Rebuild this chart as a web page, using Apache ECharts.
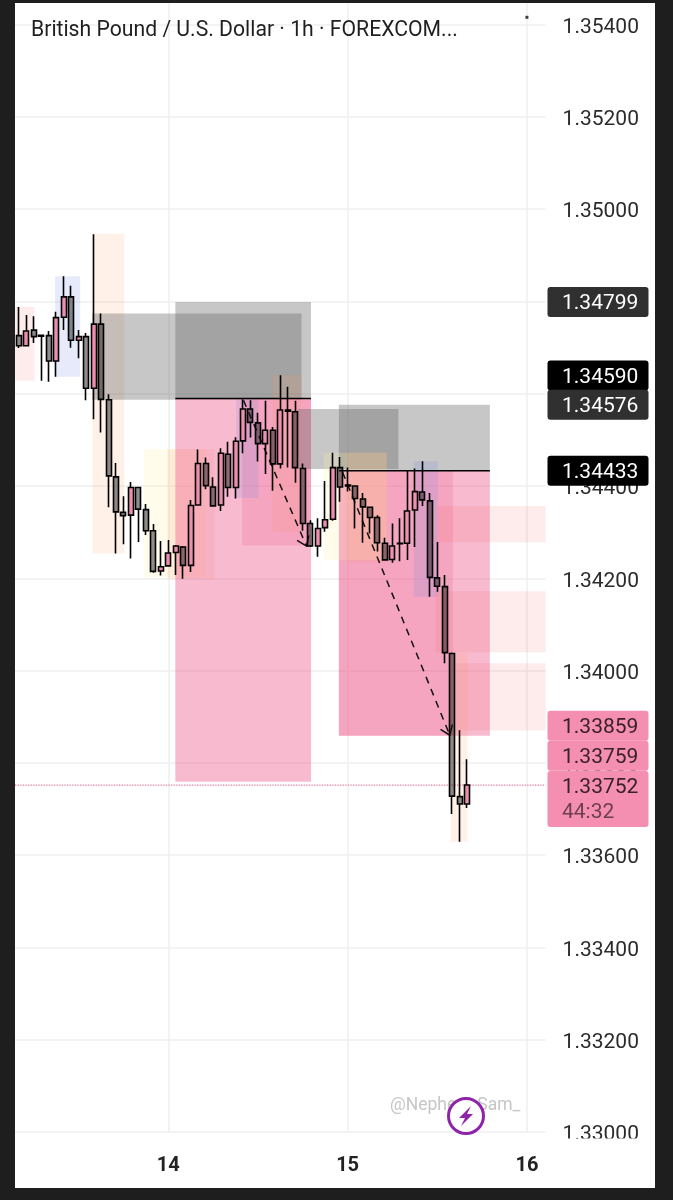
<!DOCTYPE html>
<html>
<head>
<meta charset="utf-8">
<title>GBPUSD 1h</title>
<script src="https://cdn.jsdelivr.net/npm/echarts@6/dist/echarts.min.js"></script>
<style>
html,body{margin:0;padding:0;background:#fff;}
#chart{width:673px;height:1200px;}
</style>
</head>
<body>
<div id="chart"></div>
<script>
// x = hours since 13th 00:00, first candle is 04:00
var firstHour = 4;
// open, close, low, high
var candleOpen = [1.34726,1.34704,1.34738,1.34727,1.34726,1.34671,1.34766,1.34810,1.34716,1.34724,1.34612,1.34751,1.34587,1.34420,1.34343,1.34337,1.34397,1.34349,1.34303,1.34216,1.34227,1.34256,1.34268,1.34228,1.34359,1.34449,1.34398,1.34359,1.34469,1.34397,1.34498,1.34567,1.34537,1.34492,1.34521,1.34448,1.34565,1.34561,1.34438,1.34319,1.34270,1.34310,1.34328,1.34440,1.34402,1.34400,1.34372,1.34354,1.34332,1.34276,1.34241,1.34275,1.34276,1.34348,1.34387,1.34368,1.34201,1.34182,1.34037,1.33727,1.33711];
var candleClose = [1.34704,1.34736,1.34724,1.34725,1.34671,1.34765,1.34810,1.34716,1.34724,1.34612,1.34751,1.34588,1.34422,1.34344,1.34336,1.34397,1.34350,1.34303,1.34215,1.34225,1.34255,1.34270,1.34228,1.34358,1.34449,1.34401,1.34357,1.34471,1.34397,1.34497,1.34567,1.34538,1.34492,1.34521,1.34448,1.34565,1.34562,1.34440,1.34319,1.34270,1.34308,1.34327,1.34440,1.34398,1.34400,1.34373,1.34355,1.34332,1.34277,1.34240,1.34270,1.34276,1.34346,1.34388,1.34370,1.34202,1.34183,1.34039,1.33728,1.33711,1.33752];
var candleLow = [1.34699,1.34703,1.34710,1.34628,1.34626,1.34637,1.34738,1.34700,1.34677,1.34586,1.34545,1.34516,1.34354,1.34254,1.34274,1.34243,1.34279,1.34294,1.34212,1.34206,1.34225,1.34207,1.34199,1.34214,1.34359,1.34393,1.34356,1.34346,1.34377,1.34373,1.34471,1.34505,1.34453,1.34426,1.34390,1.34438,1.34440,1.34407,1.34303,1.34268,1.34247,1.34301,1.34325,1.34366,1.34388,1.34308,1.34277,1.34297,1.34258,1.34239,1.34234,1.34237,1.34240,1.34268,1.34357,1.34160,1.34171,1.34016,1.33689,1.33629,1.33702];
var candleHigh = [1.34788,1.34771,1.34768,1.34727,1.34736,1.34778,1.34855,1.34834,1.34738,1.34732,1.34946,1.34774,1.34599,1.34450,1.34378,1.34409,1.34398,1.34361,1.34318,1.34281,1.34283,1.34272,1.34270,1.34370,1.34479,1.34462,1.34419,1.34482,1.34496,1.34506,1.34588,1.34586,1.34559,1.34585,1.34528,1.34640,1.34615,1.34585,1.34449,1.34326,1.34330,1.34411,1.34472,1.34463,1.34440,1.34400,1.34385,1.34355,1.34337,1.34288,1.34319,1.34330,1.34433,1.34438,1.34454,1.34385,1.34279,1.34207,1.34039,1.33871,1.33808];

// shaded zones
var zoneFrom = [3.5,8.85,13.85,20.78,23.87,13.8,24.94,24.94,33.88,33.1,37.94,41.3,46.83,46.83,46.83,44.78,47.87,56.85,60.07,59.8,62.48,61.81];
var zoneTo   = [6.1,12.2,18.1,28.96,30.17,41.83,43.1,43.1,43.1,36.07,41.83,54.8,67.04,67.04,62.08,53.23,53.23,60.07,74.5,74.5,74.5,64.05];
var zoneHigh = [1.34788,1.34855,1.34947,1.3448,1.3448,1.34774,1.34799,1.3459,1.3459,1.3459,1.3464,1.34567,1.34576,1.34433,1.34433,1.34472,1.34472,1.34454,1.34357,1.34172,1.34016,1.34038];
var zoneLow  = [1.34628,1.34637,1.34254,1.34203,1.34198,1.34587,1.3459,1.33759,1.34271,1.34374,1.34301,1.34437,1.34433,1.33859,1.33859,1.3424,1.34235,1.3416,1.34278,1.3404,1.3387,1.33629];
var zoneKind = ['red','blue','orange','yellow','orange','grey','grey','pink','pinkSoft','blue','orange','grey','grey','pink','pinkSoft','yellow','orange','blue','red','red','red','orange'];

// solid level lines: from, to, price
var levelFrom = [24.94,46.83];
var levelTo = [43.1,67.04];
var levelPrice = [1.3459,1.34433];

// dashed arrows
var arrowFromHour = [34.06,47.33];
var arrowFromPrice = [1.34586,1.3443];
var arrowToHour = [42.5,61.68];
var arrowToPrice = [1.3427,1.3386];

var lastPrice = 1.33752;
var countdown = '44:32';
var tagPrices = [1.34799,1.3459,1.34576,1.34433,1.33859,1.33759,1.33752];
var tagKinds = ['dark','black','dark','black','pink','pink','pink'];
var tagShift = [0,-23,0,0,-10,-26,1];

var dotHour = [72];
var dotPrice = [1.35416];

var zoneStyles = {
	red: 'rgba(244,90,90,0.12)',
	blue: 'rgba(110,130,230,0.17)',
	orange: 'rgba(255,150,90,0.14)',
	yellow: 'rgba(255,240,170,0.22)',
	grey: 'rgba(100,100,100,0.36)',
	pink: 'rgba(238,90,140,0.42)',
	pinkSoft: 'rgba(238,90,140,0.22)'
};
var tagStyles = {
	dark: {fill:'#303030', text:'#ffffff'},
	black: {fill:'#000000', text:'#ffffff'},
	pink: {fill:'#f48fb1', text:'#3a2029'}
};
var fontName = 'Roboto';

var candles = [], i;
for (i = 0; i < candleOpen.length; i++) {
	candles.push([firstHour + i, candleOpen[i], candleClose[i], candleLow[i], candleHigh[i]]);
}
var zones = [];
for (i = 0; i < zoneFrom.length; i++) {
	zones.push([zoneFrom[i], zoneTo[i], zoneHigh[i], zoneLow[i]]);
}
var levels = [];
for (i = 0; i < levelFrom.length; i++) {
	levels.push([levelFrom[i], levelTo[i], levelPrice[i]]);
}
var arrows = [];
for (i = 0; i < arrowFromHour.length; i++) {
	arrows.push([arrowFromHour[i], arrowFromPrice[i], arrowToHour[i], arrowToPrice[i]]);
}
var tags = [];
for (i = 0; i < tagPrices.length; i++) {
	tags.push([0, tagPrices[i]]);
}

function renderZone(params, api){
	var a = api.coord([api.value(0), api.value(2)]);
	var b = api.coord([api.value(1), api.value(3)]);
	return {
		type: 'rect',
		shape: {x: a[0], y: a[1], width: b[0] - a[0], height: b[1] - a[1]},
		style: {fill: zoneStyles[zoneKind[params.dataIndex]]}
	};
}

function renderLevel(params, api){
	var a = api.coord([api.value(0), api.value(2)]);
	var b = api.coord([api.value(1), api.value(2)]);
	return {
		type: 'line',
		shape: {x1: a[0], y1: a[1], x2: b[0], y2: b[1]},
		style: {stroke: '#000', lineWidth: 1.5}
	};
}

function renderArrow(params, api){
	var a = api.coord([api.value(0), api.value(1)]);
	var b = api.coord([api.value(2), api.value(3)]);
	var ang = Math.atan2(b[1] - a[1], b[0] - a[0]);
	var len = 11, spread = 0.62;
	var lineStyle = {stroke: '#111', lineWidth: 1.5, fill: null};
	return {
		type: 'group',
		children: [
			{type: 'line', shape: {x1: a[0], y1: a[1], x2: b[0], y2: b[1]},
				style: {stroke: '#111', lineWidth: 1.5, lineDash: [7, 6]}},
			{type: 'polyline', shape: {points: [
				[b[0] - len * Math.cos(ang - spread), b[1] - len * Math.sin(ang - spread)],
				b,
				[b[0] - len * Math.cos(ang + spread), b[1] - len * Math.sin(ang + spread)]
			]}, style: lineStyle}
		]
	};
}

function renderTag(params, api){
	var i = params.dataIndex;
	var y = api.coord([0, api.value(1)])[1] + tagShift[i];
	var st = tagStyles[tagKinds[i]];
	var isLast = tagPrices[i] === lastPrice;
	var children = [
		{type: 'rect', shape: {x: 547.5, y: y - 15, width: 101, height: isLast ? 56 : 30, r: 3}, style: {fill: st.fill}},
		{type: 'text', style: {x: 562, y: y + 2, text: tagPrices[i].toFixed(5), fill: st.text,
			font: '21px ' + fontName, textAlign: 'left', textVerticalAlign: 'middle'}}
	];
	if (isLast) {
		children.push({type: 'text', style: {x: 562, y: y + 27, text: countdown, fill: '#6d3f50',
			font: '21px ' + fontName, textAlign: 'left', textVerticalAlign: 'middle'}});
	}
	return {type: 'group', children: children};
}

var option = {
	animation: false,
	backgroundColor: '#fff',
	title: {
		text: 'British Pound / U.S. Dollar · 1h · FOREXCOM...',
		left: 26, top: 15,
		textStyle: {fontFamily: fontName, fontSize: 21.2, fontWeight: 'normal', color: '#1f1f1f'}
	},
	grid: {left: -11, right: 127.4, top: 3, bottom: 68, outerBoundsMode: 'none'},
	xAxis: {
		type: 'value', min: 0, max: 74.5, interval: 24,
		axisLine: {show: false}, axisTick: {show: false},
		axisLabel: {
			showMinLabel: false, showMaxLabel: false, margin: 24,
			fontFamily: fontName, fontSize: 20, fontWeight: 'bold', color: '#222',
			formatter: function(v){ return String(v / 24 + 13); }
		},
		splitLine: {show: true, showMinLine: false, showMaxLine: false, lineStyle: {color: '#efefef', width: 1.5}}
	},
	yAxis: {
		type: 'value', position: 'right', min: 1.33, max: 1.35447, interval: 0.002,
		axisLine: {show: false}, axisTick: {show: false},
		axisLabel: {
			showMaxLabel: false, margin: 17, align: 'left',
			formatter: function(v){ return '{p|' + v.toFixed(5) + '}'; },
			rich: {p: {fontFamily: fontName, fontSize: 21, color: '#2b2b2b', padding: [6, 0, 0, 0]}}
		},
		splitLine: {show: true, showMaxLine: false, lineStyle: {color: '#efefef', width: 1.5}}
	},
	series: [
		{type: 'custom', name: 'zones', z: 2, data: zones, renderItem: renderZone, encode: {x: [0, 1], y: [2, 3]}, silent: true},
		{type: 'custom', name: 'levels', z: 3, data: levels, renderItem: renderLevel, encode: {x: [0, 1], y: 2}, silent: true},
		{type: 'custom', name: 'arrows', z: 3, data: arrows, renderItem: renderArrow, encode: {x: [0, 2], y: [1, 3]}, silent: true},
		{
			type: 'line', name: 'last', z: 3, symbol: 'none', silent: true,
			data: [[0, lastPrice], [74.5, lastPrice]],
			lineStyle: {color: '#e57ba3', type: 'dotted', width: 1.3}
		},
		{
			type: 'candlestick', name: 'GBPUSD', z: 4, data: candles, barWidth: 5.5,
			encode: {x: 0, y: [1, 2, 3, 4]},
			itemStyle: {color: '#ee8fb2', color0: 'rgba(20,20,20,0.48)', borderColor: '#000', borderColor0: '#000', borderWidth: 1.6}
		},
		{type: 'scatter', name: 'dot', z: 4, data: [[dotHour[0], dotPrice[0]]], symbol: 'rect', symbolSize: 3, itemStyle: {color: '#111'}, silent: true},
		{type: 'custom', name: 'tags', z: 6, data: tags, renderItem: renderTag, encode: {x: 0, y: 1}, silent: true, clip: false}
	],
	graphic: [
		// hides the bottom of the clipped 1.33000 label
		{type: 'rect', z: 50, shape: {x: 546, y: 1138.5, width: 109, height: 14}, style: {fill: '#fff'}},
		{type: 'text', z: 50, style: {x: 390, y: 1097, text: '@Nephew_Sam_', fill: '#c6c6c6', font: '17.5px ' + fontName}},
		{type: 'circle', z: 51, shape: {cx: 466, cy: 1116, r: 17.5}, style: {fill: '#fff', stroke: '#8e24aa', lineWidth: 3}},
		{type: 'polygon', z: 52, shape: {points: [[471,1106],[459,1118],[465,1118],[461,1126],[473,1114],[467,1114]]}, style: {fill: '#8e24aa'}},
		// phone frame
		{type: 'rect', z: 60, shape: {x: 0, y: 0, width: 673, height: 3}, style: {fill: '#1e1e1e'}},
		{type: 'rect', z: 60, shape: {x: 0, y: 1188, width: 673, height: 12}, style: {fill: '#1e1e1e'}},
		{type: 'rect', z: 60, shape: {x: 0, y: 0, width: 15, height: 1200}, style: {fill: '#1e1e1e'}},
		{type: 'rect', z: 60, shape: {x: 655, y: 0, width: 18, height: 1200}, style: {fill: '#1e1e1e'}}
	]
};

var chart = echarts.init(document.getElementById('chart'));
chart.setOption(option);
</script>
</body>
</html>
